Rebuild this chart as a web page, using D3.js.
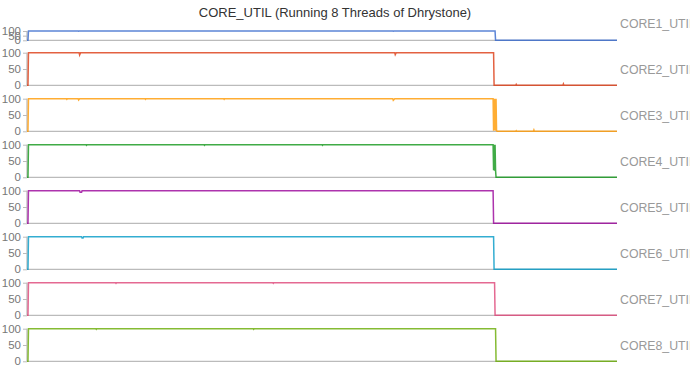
<!DOCTYPE html>
<html>
<head>
<meta charset="utf-8">
<script src="https://cdn.jsdelivr.net/npm/d3@7"></script>
<style>
  body { margin: 0; background: #fff; }
  svg { font-family: "Liberation Sans", Arial, sans-serif; }
</style>
</head>
<body>
<svg id="chart" width="690" height="371"></svg>
<script>
// time axis in seconds, utilisation in percent
const cores = ['CORE1_UTIL', 'CORE2_UTIL', 'CORE3_UTIL', 'CORE4_UTIL',
               'CORE5_UTIL', 'CORE6_UTIL', 'CORE7_UTIL', 'CORE8_UTIL'];
const colors = ['#3366cc', '#dc3912', '#ff9900', '#109618',
                '#990099', '#0099c6', '#dd4477', '#66aa00'];
const yTicks = [0, 50, 100];

// [time, value] samples for each core
const core1 = [[0,0],[1,0],[1.5,100],[52,100],[52.5,98],[53,100],[372,100],[372.5,98],[373,100],[476,100],[476.5,0],[600,0]];
const core2 = [[0,0],[1,0],[1.5,100],[53,100],[53.5,93],[54.5,100],[374,100],[374.5,94],[375.5,100],[474.5,100],[475,0],[497,0],[497.5,3],[498,0],[545,0],[545.5,4],[546,0],[600,0]];
const core3 = [[0,0],[1,0],[1.5,100],[40,100],[40.5,98],[41,100],[52,100],[52.5,96],[53.5,100],[120,100],[120.5,98],[121,100],[200,100],[200.5,98],[201,100],[372,100],[372.5,95],[374,100],[474,100],[474.5,2],[475,100],[475.5,3],[476,100],[476.5,2],[477,100],[477.5,3],[478,0],[497,0],[497.5,2],[498,0],[515,0],[515.5,4],[516,0],[600,0]];
const core4 = [[0,0],[1,0],[1.5,100],[60,100],[60.5,98],[61,100],[180,100],[180.5,98],[181,100],[300,100],[300.5,98],[301,100],[474,100],[474.5,22],[475,100],[475.5,20],[476,100],[476.5,22],[477,0],[600,0]];
const core5 = [[0,0],[1,0],[1.5,100],[53.5,100],[54,95],[55.5,95],[56,100],[474,100],[474.5,0],[600,0]];
const core6 = [[0,0],[1,0],[1.5,100],[55.5,100],[56,96],[57,96],[57.5,100],[474.5,100],[475,0],[600,0]];
const core7 = [[0,0],[1,0],[1.5,100],[90,100],[90.5,98],[91,100],[250,100],[250.5,98],[251,100],[475.5,100],[476,0],[600,0]];
const core8 = [[0,0],[1,0],[1.5,100],[70,100],[70.5,98],[71,100],[230,100],[230.5,98],[231,100],[476.5,100],[477,0],[600,0]];
const series = [core1, core2, core3, core4, core5, core6, core7, core8];

const svg = d3.select('#chart');
const left = 27, right = 617;
const x = d3.scaleLinear().domain([0, 600]).range([left, right]);

svg.append('text')
  .attr('x', 335).attr('y', 17)
  .attr('text-anchor', 'middle')
  .attr('font-size', 13)
  .attr('fill', '#333')
  .text('CORE_UTIL (Running 8 Threads of Dhrystone)');

const line = d3.line();

series.forEach((data, i) => {
  // first panel is squeezed under the title
  const top = i === 0 ? 31 : 52.7 + 46 * (i - 1);
  const bottom = i === 0 ? 40.3 : top + 32.6;
  const y = d3.scaleLinear().domain([0, 100]).range([bottom, top]);
  const g = svg.append('g');

  const yAxis = g.append('g')
    .attr('transform', `translate(${left},0)`)
    .call(d3.axisLeft(y).tickValues(yTicks).tickSize(4).tickPadding(2));
  yAxis.select('.domain').attr('stroke', '#aaa').attr('d', `M0,${bottom}V${top}`);
  yAxis.selectAll('.tick line').attr('stroke', '#bbb');
  yAxis.selectAll('.tick text').attr('fill', '#777').attr('font-size', 11.5)
    .attr('font-family', '"Liberation Sans", Arial, sans-serif');

  g.append('line')
    .attr('x1', left).attr('x2', right)
    .attr('y1', bottom).attr('y2', bottom)
    .attr('stroke', '#aaa');

  line.x(d => x(d[0])).y(d => y(d[1]));
  g.append('path')
    .datum(data)
    .attr('fill', 'none')
    .attr('stroke', colors[i])
    .attr('stroke-opacity', 0.8)
    .attr('stroke-width', 1.5)
    .attr('d', line);

  g.append('text')
    .attr('x', 620).attr('y', 24 + 46 * i)
    .attr('dy', '0.35em')
    .attr('font-size', 12.3)
    .attr('fill', '#999')
    .text(cores[i]);
});
</script>
</body>
</html>
